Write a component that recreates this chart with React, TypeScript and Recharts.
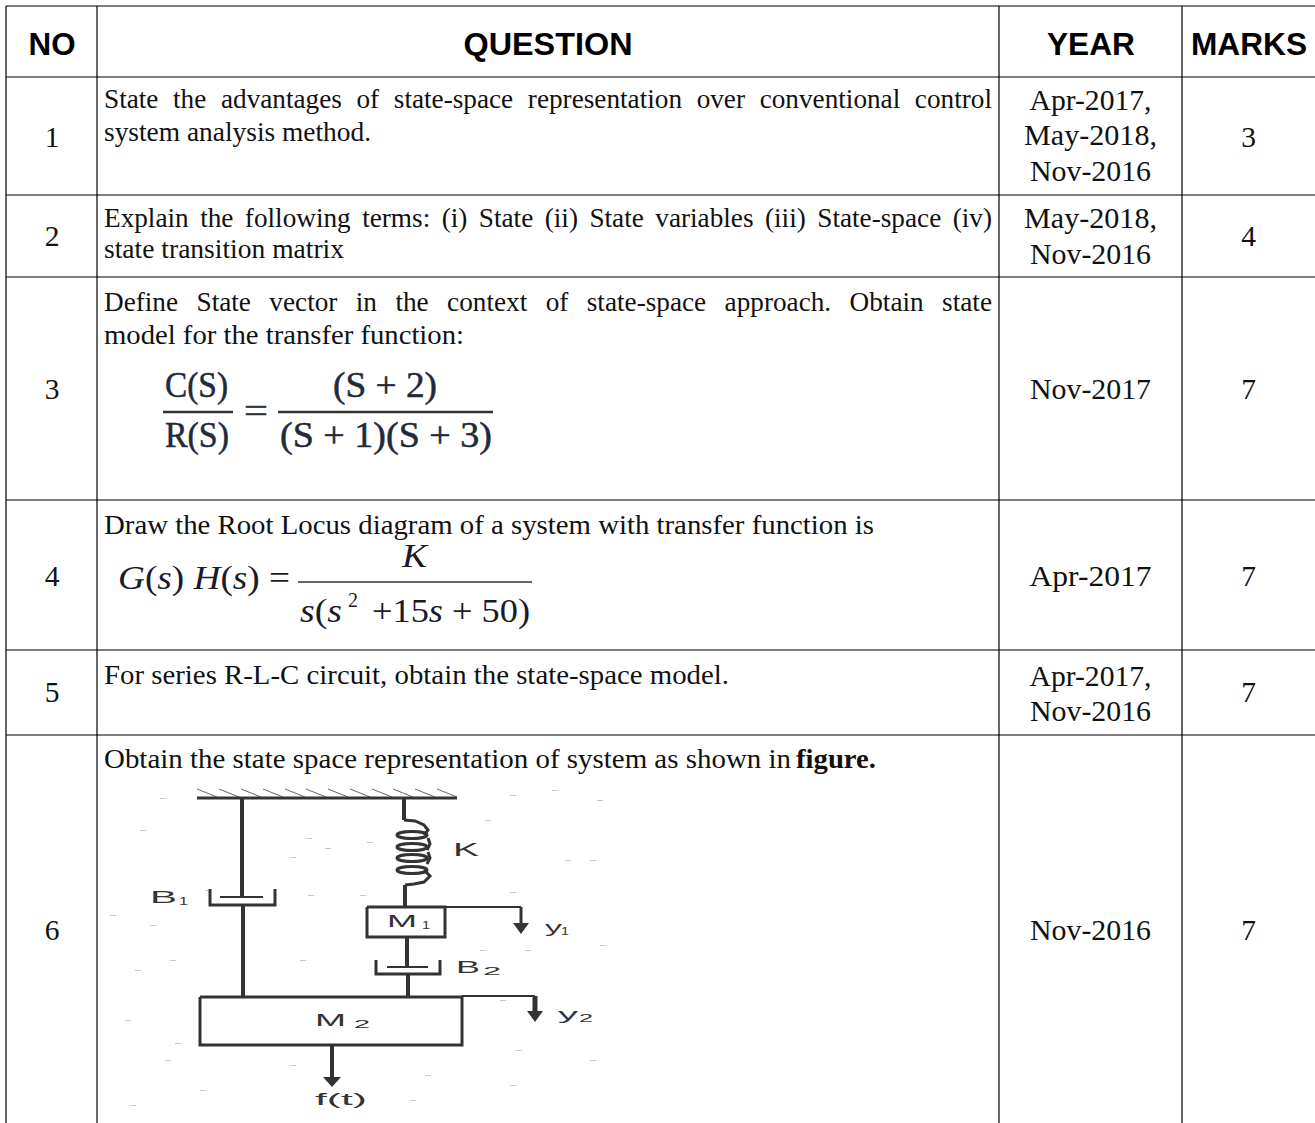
import React from "react";
import { ScatterChart, Scatter, XAxis, YAxis, ReferenceLine } from "recharts";

const W = 1315;
const H = 1123;
const SERIF = "'Liberation Serif', serif";
const SANS = "'Liberation Sans', sans-serif";

// ---- table content ----
const headers = ["NO", "QUESTION", "YEAR", "MARKS"];
const numbers = ["1", "2", "3", "4", "5", "6"];
const marks = ["3", "4", "7", "7", "7", "7"];
const years = [
  ["Apr-2017,", "May-2018,", "Nov-2016"],
  ["May-2018,", "Nov-2016"],
  ["Nov-2017"],
  ["Apr-2017"],
  ["Apr-2017,", "Nov-2016"],
  ["Nov-2016"],
];
const questionLines = [
  "State the advantages of state-space representation over conventional control",
  "system analysis method.",
  "Explain the following terms: (i) State (ii) State variables (iii) State-space (iv)",
  "state transition matrix",
  "Define State vector in the context of state-space approach. Obtain state",
  "model for the transfer function:",
  "Draw the Root Locus diagram of a system with transfer function is",
  "For series R-L-C circuit, obtain the state-space model.",
  "Obtain the state space representation of system as shown in ",
];
const boldWord = "figure.";

// ---- table layout (separate from content) ----
const colLines = [6, 97, 999, 1182];
const rowLines = [6, 77, 195, 277, 500, 650, 735];
const headerCenters = [52, 548, 1091, 1249];
const headerWidths = [47, 169, 88, 116];
const headerBaseline = 55;
const numberCenter = 52;
const yearCenter = 1090.5;
const marksCenter = 1248.5;
const rowNumberBaselines = [147, 246, 399, 586, 702, 940];
const yearBaselines = [[110, 145, 181], [228, 264], [399], [586], [686, 721], [940]];
const questionBaselines = [108, 141, 227, 258, 311, 344, 534, 684, 768];
const questionWidths = [888, 267, 888, 240, 888, 360, 770, 625, 687];
const justified = [true, false, true, false, true, false, false, false, false];
const BODY_SIZE = 27.5;
const CELL_SIZE = 29.5;
const H_STRETCH = 0.99;

// ---- helpers ----
const measureCanvas = typeof document !== "undefined" ? document.createElement("canvas").getContext("2d") : null;
function naturalWidth(text: string, font: string) {
  if (!measureCanvas) return text.length * 12;
  measureCanvas.font = font;
  return measureCanvas.measureText(text).width;
}
function wordSpacingFor(text: string, width: number) {
  const natural = naturalWidth(text, `${BODY_SIZE}px 'Liberation Serif'`);
  const gaps = text.split(" ").length - 1;
  return Math.max(0, (width / H_STRETCH - natural) / gaps);
}

type TextItem = {
  x: number;
  y: number;
  text?: string;
  node?: React.ReactNode;
  anchor?: string;
  size?: number;
  family?: string;
  weight?: string | number;
  width?: number;
  wordSpacing?: number;
  fill?: string;
  fontStyle?: string;
  thicken?: number;
};

const TextShape = (props: any) => {
  const p: TextItem = props.payload;
  const extra: any = {};
  if (p.width) {
    extra.textLength = p.width;
    extra.lengthAdjust = "spacingAndGlyphs";
  }
  if (p.thicken) {
    extra.stroke = p.fill || "#111";
    extra.strokeWidth = p.thicken;
  }
  return (
    <text
      x={props.cx}
      y={props.cy}
      textAnchor={p.anchor || "start"}
      fontFamily={p.family || SERIF}
      fontSize={p.size || BODY_SIZE}
      fontWeight={p.weight || "normal"}
      fontStyle={p.fontStyle || "normal"}
      fill={p.fill || "#111"}
      style={p.wordSpacing ? { wordSpacing: p.wordSpacing } : undefined}
      {...extra}
    >
      {p.node ?? p.text}
    </text>
  );
};

const tableText: TextItem[] = [];
headers.forEach((t, i) =>
  tableText.push({ x: headerCenters[i], y: headerBaseline, text: t, anchor: "middle", family: SANS, weight: "bold", size: 31, width: headerWidths[i], fill: "#000" })
);
numbers.forEach((t, i) => tableText.push({ x: numberCenter, y: rowNumberBaselines[i], text: t, anchor: "middle", size: CELL_SIZE }));
marks.forEach((t, i) => tableText.push({ x: marksCenter, y: rowNumberBaselines[i], text: t, anchor: "middle", size: CELL_SIZE }));
years.forEach((lines, r) =>
  lines.forEach((t, l) =>
    tableText.push({
      x: yearCenter,
      y: yearBaselines[r][l],
      text: t,
      anchor: "middle",
      size: CELL_SIZE,
      width: t.startsWith("May") ? 133 : t.startsWith("Apr") ? 122 : 121,
    })
  )
);
questionLines.forEach((t, i) =>
  tableText.push({
    x: 104,
    y: questionBaselines[i],
    text: t,
    width: questionWidths[i],
    wordSpacing: justified[i] ? wordSpacingFor(t, questionWidths[i]) : undefined,
  })
);
tableText.push({ x: 796, y: 768, text: boldWord, weight: "bold", width: 80 });

// ---- formulas ----
const it = (s: string) => <tspan fontStyle="italic">{s}</tspan>;
const formulaText: TextItem[] = [
  { x: 165, y: 397, text: "C(S)", size: 36, width: 63, fill: "#1f2a3a", thicken: 0.5 },
  { x: 165, y: 447, text: "R(S)", size: 36, width: 64, fill: "#1f2a3a", thicken: 0.5 },
  { x: 244, y: 423, text: "=", size: 36, width: 24, fill: "#333", thicken: 0.5 },
  { x: 333, y: 397, text: "(S + 2)", size: 36, width: 104, fill: "#1f2a3a", thicken: 0.5 },
  { x: 280, y: 447, text: "(S + 1)(S + 3)", size: 36, width: 212, fill: "#1f2a3a", thicken: 0.5 },
  {
    x: 118, y: 589, size: 34, width: 172, fill: "#1a1a2a",
    node: <>{it("G")}({it("s")}) {it("H")}({it("s")}) =</>,
  },
  { x: 402, y: 567, text: "K", size: 33, fontStyle: "italic", width: 25, fill: "#1a1a2a" },
  { x: 300, y: 622, size: 34, width: 42, fill: "#1a1a2a", node: <>{it("s")}({it("s")}</> },
  { x: 348, y: 607, text: "2", size: 22, width: 10, fill: "#1a1a2a" },
  { x: 372, y: 622, size: 34, width: 158, fill: "#1a1a2a", node: <>+15{it("s")} + 50)</> },
];
const fractionRules = [
  [163, 233, 412, 2.5],
  [278, 493, 412, 2.5],
  [298, 532, 582, 1.5],
];

// ---- mass-spring-damper figure ----
const figureText: TextItem[] = [
  { x: 150, y: 903, text: "B", size: 17, width: 27, family: SANS, fill: "#333" },
  { x: 179, y: 905, text: "1", size: 10, width: 9, family: SANS, fill: "#333" },
  { x: 456, y: 973, text: "B", size: 17, width: 24, family: SANS, fill: "#333" },
  { x: 483, y: 975, text: "2", size: 11, width: 18, family: SANS, fill: "#333" },
  { x: 453, y: 856, text: "K", size: 19, width: 26, family: SANS, fill: "#333" },
  { x: 387, y: 927, text: "M", size: 17, width: 30, family: SANS, fill: "#333" },
  { x: 422, y: 929, text: "1", size: 10, width: 8, family: SANS, fill: "#333" },
  { x: 315, y: 1026, text: "M", size: 17, width: 31, family: SANS, fill: "#333" },
  { x: 354, y: 1028, text: "2", size: 11, width: 16, family: SANS, fill: "#333" },
  { x: 545, y: 933, text: "y", size: 17, width: 17, family: SANS, fill: "#333" },
  { x: 561, y: 935, text: "1", size: 10, width: 8, family: SANS, fill: "#333" },
  { x: 558, y: 1020, text: "y", size: 17, width: 20, family: SANS, fill: "#333" },
  { x: 579, y: 1022, text: "2", size: 11, width: 14, family: SANS, fill: "#333" },
  { x: 315, y: 1105, text: "f(t)", size: 17, width: 52, family: SANS, fill: "#333" },
];
const hatchStarts = [197, 219, 241, 263, 285, 306, 328, 350, 372, 393, 415, 437];
const figureSegments: number[][] = [
  [197, 798, 457, 798, 3],
  [242, 798, 242, 897, 4],
  [220, 897, 263, 897, 2],
  [243, 905, 243, 997, 4],
  [404, 798, 404, 820, 4],
  [405, 885, 405, 907, 4],
  [407, 937, 407, 967, 4],
  [387, 967, 428, 967, 2],
  [408, 974, 408, 997, 4],
  [445, 907, 521, 907, 2],
  [521, 907, 521, 926, 3],
  [462, 996, 535, 996, 2],
  [535, 996, 535, 1013, 5],
  [332, 1045, 332, 1078, 4],
];
const polylines: { x: number; y: number }[][] = [
  [[210, 889], [210, 905], [275, 905], [275, 889]],
  [[376, 960], [376, 974], [440, 974], [440, 960]],
  [[367, 907], [445, 907], [445, 937], [367, 937], [367, 907]],
  [[200, 997], [462, 997], [462, 1045], [200, 1045], [200, 997]],
  [[404, 820], [415, 821], [424, 825], [428, 830], [424, 835]],
  [[428, 838], [430, 844], [427, 850]],
  [[428, 852], [430, 858], [427, 864]],
  [[424, 870], [430, 876], [424, 882], [414, 884], [405, 885]],
].map((pts) => pts.map(([x, y]) => ({ x, y })));
const springCoils = [835, 847, 858, 870].map((y) => ({ x: 412, y }));
const arrowTips = [
  { x: 521, y: 934, half: 8, len: 11 },
  { x: 535, y: 1022, half: 8, len: 11 },
  { x: 332, y: 1087, half: 9, len: 10 },
];
const scanSpecks = [
  [160, 798], [140, 830], [306, 838], [290, 857], [325, 848], [367, 842], [510, 795], [597, 800], [552, 790],
  [110, 915], [150, 925], [205, 890], [308, 895], [360, 895], [510, 892], [590, 860], [565, 860], [485, 820],
  [525, 950], [600, 945], [500, 1000], [125, 1020], [175, 1043], [165, 1060], [516, 1050], [590, 1060], [425, 1075],
  [200, 1090], [510, 1085], [130, 1105], [410, 1100], [170, 960], [135, 970], [300, 960], [480, 950], [290, 1065],
].map(([x, y]) => ({ x, y }));

const NoPoint = () => null;
const CoilShape = (props: any) => (
  <ellipse cx={props.cx} cy={props.cy} rx={15} ry={3.5} fill="none" stroke="#333" strokeWidth={3} />
);
const ArrowShape = (props: any) => {
  const { half, len } = props.payload;
  const { cx, cy } = props;
  return <polygon points={`${cx},${cy} ${cx - half},${cy - len} ${cx + half},${cy - len}`} fill="#333" />;
};
const SpeckShape = (props: any) => (
  <rect x={props.cx} y={props.cy} width={6} height={1} fill="#c8c8c8" />
);

export default function App() {
  return (
    <div style={{ position: "absolute", left: 0, top: 0, width: W, height: H, overflow: "hidden", background: "#fff" }}>
      <ScatterChart width={W} height={H} margin={{ top: 0, right: 0, bottom: 0, left: 0 }}>
        <XAxis type="number" dataKey="x" domain={[0, W]} hide allowDataOverflow />
        <YAxis type="number" dataKey="y" domain={[0, H]} reversed hide allowDataOverflow />

        {rowLines.map((y) => (
          <ReferenceLine key={`r${y}`} segment={[{ x: 6, y }, { x: W, y }]} stroke="#000" strokeWidth={1.2} ifOverflow="visible" />
        ))}
        {colLines.map((x) => (
          <ReferenceLine key={`c${x}`} segment={[{ x, y: 6 }, { x, y: H }]} stroke="#000" strokeWidth={1.2} ifOverflow="visible" />
        ))}

        {fractionRules.map(([x1, x2, y, w], i) => (
          <ReferenceLine key={`f${i}`} segment={[{ x: x1, y }, { x: x2, y }]} stroke="#333" strokeWidth={w} ifOverflow="visible" />
        ))}

        <Scatter data={scanSpecks} shape={SpeckShape} isAnimationActive={false} />
        {hatchStarts.map((x) => (
          <ReferenceLine key={`h${x}`} segment={[{ x, y: 789 }, { x: x + 20, y: 797 }]} stroke="#666" strokeWidth={1} ifOverflow="visible" />
        ))}
        {figureSegments.map(([x1, y1, x2, y2, w], i) => (
          <ReferenceLine key={`s${i}`} segment={[{ x: x1, y: y1 }, { x: x2, y: y2 }]} stroke="#333" strokeWidth={w} ifOverflow="visible" />
        ))}
        {polylines.map((pts, i) => (
          <Scatter
            key={`p${i}`}
            data={pts}
            line={{ stroke: "#333", strokeWidth: 3 }}
            shape={NoPoint}
            fill="#333"
            isAnimationActive={false}
          />
        ))}
        <Scatter data={springCoils} shape={CoilShape} isAnimationActive={false} />
        <Scatter data={arrowTips} shape={ArrowShape} isAnimationActive={false} />

        <Scatter data={tableText} shape={TextShape} isAnimationActive={false} />
        <Scatter data={formulaText} shape={TextShape} isAnimationActive={false} />
        <Scatter data={figureText} shape={TextShape} isAnimationActive={false} />
      </ScatterChart>
    </div>
  );
}
